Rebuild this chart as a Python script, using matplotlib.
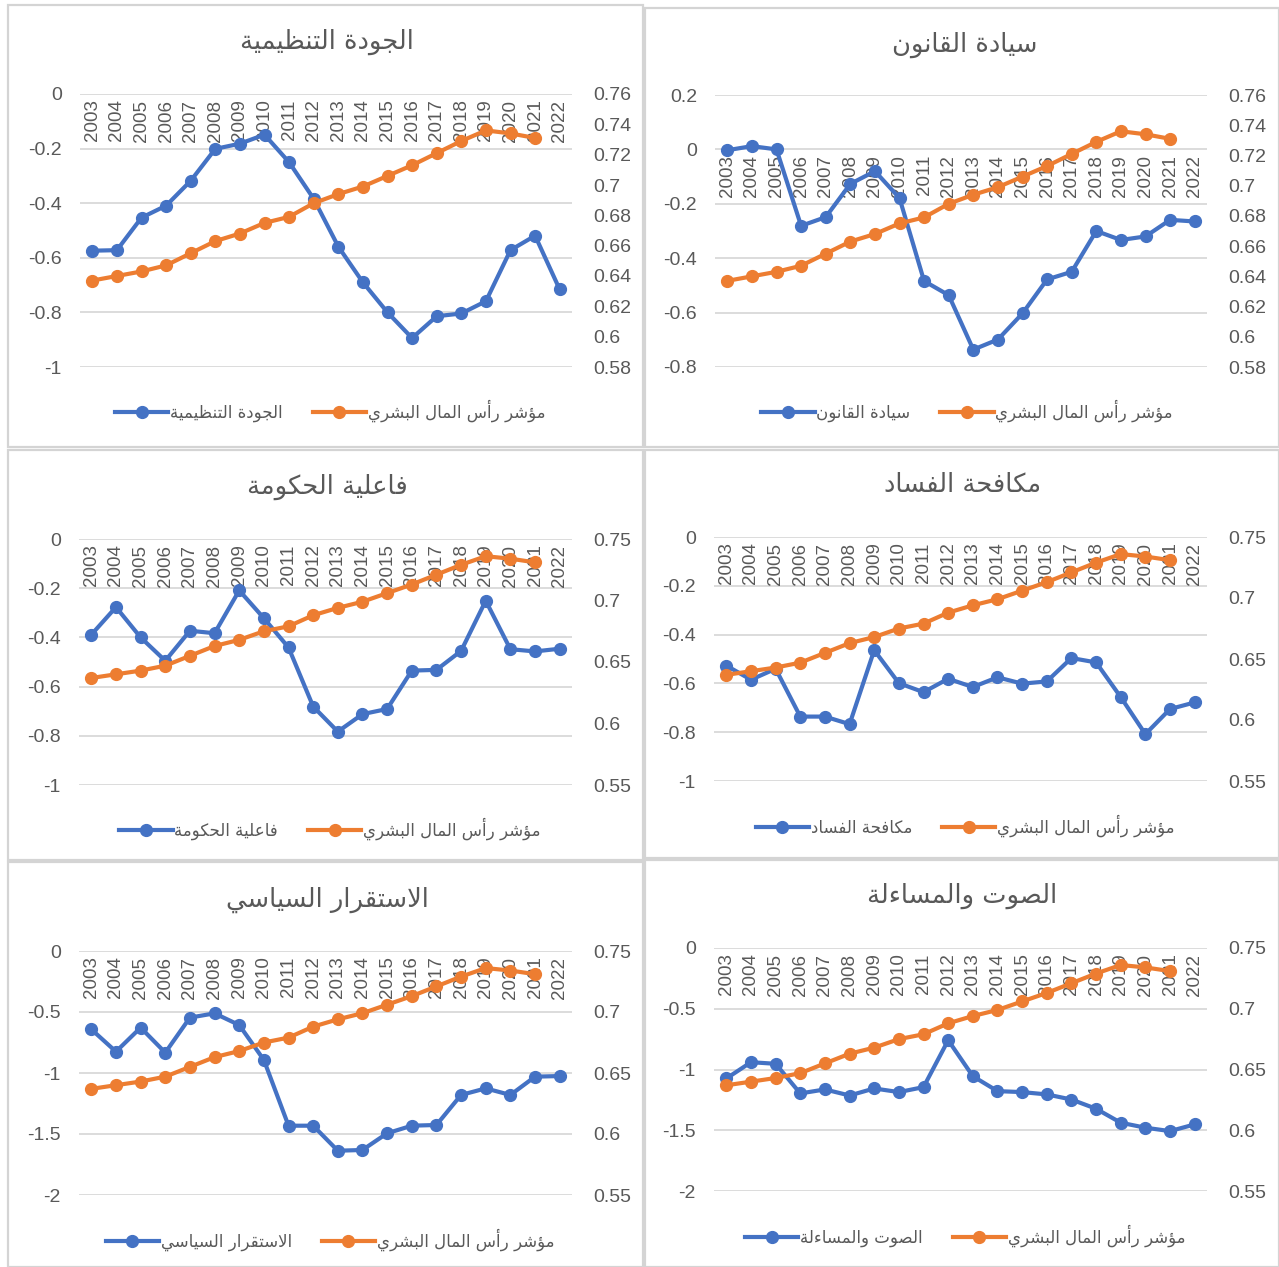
import numpy as np
import matplotlib
matplotlib.use("Agg")
import matplotlib.pyplot as plt
from matplotlib.patches import Rectangle

# ---- data ----
years = list(range(2003, 2023))
hci_years = list(range(2003, 2022))
hci = [0.637, 0.640, 0.643, 0.647, 0.655, 0.663, 0.668, 0.675, 0.679, 0.688,
       0.694, 0.699, 0.706, 0.713, 0.721, 0.729, 0.736, 0.734, 0.731]
hci_label = "مؤشر رأس المال البشري"

regulatory_quality = [-0.574, -0.572, -0.453, -0.409, -0.318, -0.201, -0.182, -0.149, -0.250, -0.384,
                      -0.559, -0.690, -0.800, -0.894, -0.814, -0.804, -0.759, -0.572, -0.519, -0.716]
rule_of_law = [-0.003, 0.012, 0.000, -0.281, -0.249, -0.127, -0.080, -0.179, -0.484, -0.536,
               -0.736, -0.699, -0.603, -0.478, -0.450, -0.300, -0.333, -0.320, -0.259, -0.265]
gov_effectiveness = [-0.389, -0.277, -0.400, -0.495, -0.373, -0.383, -0.209, -0.322, -0.441, -0.681,
                     -0.783, -0.712, -0.691, -0.535, -0.532, -0.455, -0.251, -0.448, -0.457, -0.446]
corruption_control = [-0.527, -0.585, -0.540, -0.736, -0.736, -0.767, -0.464, -0.599, -0.636, -0.581,
                      -0.615, -0.575, -0.601, -0.592, -0.496, -0.514, -0.656, -0.808, -0.705, -0.678]
political_stability = [-0.642, -0.825, -0.628, -0.833, -0.546, -0.511, -0.607, -0.893, -1.432, -1.432,
                       -1.637, -1.631, -1.494, -1.432, -1.426, -1.180, -1.126, -1.180, -1.030, -1.025]
voice_accountability = [-1.074, -0.940, -0.953, -1.197, -1.164, -1.214, -1.156, -1.186, -1.145, -0.759,
                        -1.055, -1.178, -1.186, -1.205, -1.247, -1.323, -1.438, -1.479, -1.507, -1.452]

titles = ["الجودة التنظيمية", "سيادة القانون", "فاعلية الحكومة",
          "مكافحة الفساد", "الاستقرار السياسي", "الصوت والمساءلة"]
series = [regulatory_quality, rule_of_law, gov_effectiveness,
          corruption_control, political_stability, voice_accountability]
left_ticks = [np.arange(-1, 0.01, 0.2), np.arange(-0.8, 0.21, 0.2), np.arange(-1, 0.01, 0.2),
              np.arange(-1, 0.01, 0.2), np.arange(-2, 0.01, 0.5), np.arange(-2, 0.01, 0.5)]
right_ticks = [np.arange(0.58, 0.7601, 0.02), np.arange(0.58, 0.7601, 0.02), np.arange(0.55, 0.7501, 0.05),
               np.arange(0.55, 0.7501, 0.05), np.arange(0.55, 0.7501, 0.05), np.arange(0.55, 0.7501, 0.05)]

# ---- minimal arabic shaping (matplotlib has no text shaping) ----
_counts = [1, 2, 2, 2, 2, 4, 2, 4, 2, 4, 4, 4, 4, 4, 2, 2, 2, 2, 4, 4, 4, 4, 4, 4, 4, 4,
           4, 4, 4, 4, 4, 4, 4, 2, 2, 4]
_letters = [chr(c) for c in list(range(0x0621, 0x063B)) + list(range(0x0641, 0x064B))]
FORMS = {}
_code = 0xFE80
for ch, n in zip(_letters, _counts):
    FORMS[ch] = tuple(chr(_code + k) for k in range(n))
    _code += n
LAM_ALEF = {"ا": ("\uFEFB", "\uFEFC"), "أ": ("\uFEF7", "\uFEF8"),
            "إ": ("\uFEF9", "\uFEFA"), "آ": ("\uFEF5", "\uFEF6")}


def ar(text):
    tokens = []
    i = 0
    while i < len(text):
        c = text[i]
        if c == "ل" and i + 1 < len(text) and text[i + 1] in LAM_ALEF:
            tokens.append(LAM_ALEF[text[i + 1]])
            i += 2
            continue
        tokens.append(FORMS.get(c, c))
        i += 1
    out = []
    for k, t in enumerate(tokens):
        if isinstance(t, str):
            out.append(t)
            continue
        prev = k > 0 and isinstance(tokens[k - 1], tuple) and len(tokens[k - 1]) == 4
        nxt = (len(t) == 4 and k + 1 < len(tokens) and isinstance(tokens[k + 1], tuple)
               and len(tokens[k + 1]) > 1)
        if len(t) == 1:
            out.append(t[0])
        elif prev and nxt:
            out.append(t[3])
        elif prev:
            out.append(t[1])
        elif nxt:
            out.append(t[2])
        else:
            out.append(t[0])
    return "".join(out)[::-1]


# ---- figure ----
W, H = 1279, 1267
fig = plt.figure(figsize=(W / 100, H / 100), dpi=100)
fig.patch.set_facecolor("white")

BLUE = "#4472C4"
ORANGE = "#ED7D31"
GREY = "#595959"
NUM_FONT = "Liberation Sans"
AR_FONT = "DejaVu Sans"

# plot areas in pixels: left, right, top, bottom
plot_px = [(80, 572, 94, 367), (715, 1207, 95, 367),
           (79, 572, 539, 785), (714, 1207, 537, 781),
           (79, 572, 951, 1195), (714, 1207, 948, 1191)]
boxes_px = [(8, 5, 643, 447), (645, 8, 1279, 447),
            (8, 450, 643, 860), (645, 450, 1279, 858),
            (8, 862, 643, 1267), (645, 860, 1279, 1267)]
title_px = [(327, 42), (965, 45), (327, 487), (963, 485), (327, 900), (962, 896)]
legend_px = [(330, 411), (967, 411), (330, 829), (965, 826), (330, 1240), (965, 1236)]


def fx(x):
    return x / W


def fy(y):
    return 1 - y / H


for (x0, y0, x1, y1) in boxes_px:
    fig.patches.append(Rectangle((fx(x0), fy(y1)), fx(x1 - x0), (y1 - y0) / H,
                                 transform=fig.transFigure, fill=False,
                                 edgecolor="#d4d4d4", linewidth=1.6))


def fmt(v):
    v = round(float(v), 2) + 0.0
    return f"{v:g}"


for i in range(6):
    l, r, t, b = plot_px[i]
    ax = fig.add_axes([fx(l), fy(b), fx(r - l), (b - t) / H])
    lt = left_ticks[i]
    rt = right_ticks[i]
    ax.set_xlim(2002.5, 2022.5)
    ax.set_ylim(lt[0], lt[-1])
    ax.set_yticks(lt)
    ax.set_yticklabels([fmt(v) for v in lt], fontfamily=NUM_FONT, fontsize=14, color=GREY)
    ax.set_xticks([])
    ax.tick_params(axis="y", length=0, pad=13)
    for s in ax.spines.values():
        s.set_visible(False)
    ax.grid(axis="y", color="#d9d9d9", linewidth=1.3, zorder=0)
    ax.set_axisbelow(True)

    for yr in years:
        ax.annotate(str(yr), xy=(yr, 0), xytext=(0, -4), textcoords="offset points",
                    rotation=90, ha="center", va="top", fontfamily=NUM_FONT,
                    fontsize=13.5, color=GREY, zorder=1)

    lb, = ax.plot(years, series[i], color=BLUE, linewidth=3.0, marker="o",
                  markersize=8.5, zorder=3)

    ax2 = ax.twinx()
    ax2.set_ylim(rt[0], rt[-1])
    ax2.set_yticks(rt)
    ax2.set_yticklabels([fmt(v) for v in rt], fontfamily=NUM_FONT, fontsize=14, color=GREY)
    ax2.tick_params(axis="y", length=0, pad=15)
    for s in ax2.spines.values():
        s.set_visible(False)
    lo, = ax2.plot(hci_years, hci, color=ORANGE, linewidth=3.0, marker="o",
                   markersize=8.5, zorder=3)

    tx, ty = title_px[i]
    fig.text(fx(tx), fy(ty), ar(titles[i]), ha="center", va="center",
             fontfamily=AR_FONT, fontsize=18.5, color=GREY)

    gx, gy = legend_px[i]
    leg = fig.legend([lb, lo], [ar(titles[i]), ar(hci_label)], loc="center",
                     bbox_to_anchor=(fx(gx), fy(gy)), bbox_transform=fig.transFigure,
                     ncol=2, frameon=False, handlelength=3.2, handletextpad=0.1,
                     columnspacing=1.8, prop={"family": AR_FONT, "size": 12})
    for txt in leg.get_texts():
        txt.set_color(GREY)

fig.savefig("out.png", dpi=100, facecolor="white")
